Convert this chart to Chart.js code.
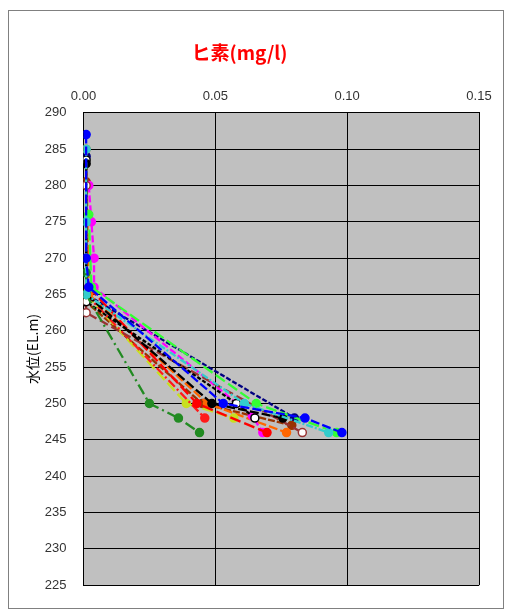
<!DOCTYPE html>
<html>
<head>
<meta charset="utf-8">
<script src="https://cdn.jsdelivr.net/npm/chart.js@4/dist/chart.umd.min.js"></script>
<style>
  body { margin: 0; background: #fff; }
  #wrap { position: relative; width: 505px; height: 610px; }
  #frame { position: absolute; left: 8px; top: 10px; width: 494px; height: 597px; border: 1px solid #808080; }
  canvas { position: absolute; left: 0; top: 0; }
</style>
</head>
<body>
<div id="wrap">
  <div id="frame"></div>
  <canvas id="myChart" width="505" height="610"></canvas>
</div>
<script>
// x ticks (mg/l) and y ticks (EL.m)
let xTicks = [0, 0.05, 0.10, 0.15];
let yTicks = [225, 230, 235, 240, 245, 250, 255, 260, 265, 270, 275, 280, 285, 290];

// each series: elevation and arsenic value
let elev1 = [287, 270, 266, 250, 248, 246];
let val1  = [0.001, 0.001, 0.002, 0.053, 0.084, 0.098];
let elev2 = [285, 275, 265, 250, 246];
let val2  = [0.001, 0.001, 0.001, 0.061, 0.093];
let elev3 = [276, 266, 250, 246];
let val3  = [0.002, 0.003, 0.0655, 0.096];
let elev4 = [268, 265, 250, 248, 246];
let val4  = [0.001, 0.001, 0.025, 0.036, 0.044];
let elev5 = [283, 265, 250, 248];
let val5  = [0.001, 0.001, 0.0487, 0.0756];
let elev6 = [283.5, 264, 250, 248];
let val6  = [0.001, 0.001, 0.058, 0.065];
let elev7 = [280, 262.5, 246];
let val7  = [0.001, 0.001, 0.083];
let elev8 = [266, 250, 246];
let val8  = [0.002, 0.043, 0.0696];
let elev9 = [265, 248];
let val9  = [0.001, 0.046];
let elev10 = [280, 275, 270, 266, 248.3, 246];
let val10  = [0.002, 0.003, 0.004, 0.004, 0.064, 0.068];
let elev11 = [265, 250, 248];
let val11  = [0.001, 0.039, 0.057];
let elev12 = [285, 265, 250, 246];
let val12  = [0.001, 0.002, 0.047, 0.077];
let elev13 = [280.5, 264, 250, 247];
let val13  = [0.001, 0.001, 0.045, 0.079];
let elev14 = [284, 265, 248];
let val14  = [0.001, 0.001, 0.080];

let elevArr = [elev1, elev2, elev3, elev4, elev5, elev6, elev7, elev8, elev9, elev10, elev11, elev12, elev13, elev14];
let valArr = [val1, val2, val3, val4, val5, val6, val7, val8, val9, val10, val11, val12, val13, val14];

// styles
let colorArr = ["#0000FF", "#33CCCC", "#33FF33", "#228B22", "#000000", "#000000", "#993333",
                "#FF0000", "#FF1A1A", "#FF00FF", "#C8E020", "#FF6600", "#993300", "#000080"];
let fillArr = ["#0000FF", "#33CCCC", "#33FF33", "#228B22", "#000000", "#FFFFFF", "#FFFFFF",
               "#FF0000", "#FF1A1A", "#FF00FF", "#C8E020", "#FF6600", "#993300", "#000080"];
let dashArr = [[9, 3], [7, 2, 2, 2], [11, 4], [11, 4, 2, 4], [9, 3], [4, 2], [9, 4],
               [11, 4], [9, 3, 2, 3], [7, 3], [11, 4], [9, 3], [7, 2], [5, 2]];

let datasets = [];
for (let i = 0; i < elevArr.length; i++) {
    datasets.push({
        label: "S" + (i + 1),
        data: elevArr[i].map((e, j) => ({x: valArr[i][j], y: e})),
        showLine: true,
        borderColor: colorArr[i],
        backgroundColor: fillArr[i],
        pointBorderColor: colorArr[i],
        pointBackgroundColor: fillArr[i],
        pointRadius: 4,
        pointBorderWidth: 1.5,
        borderWidth: 2.3,
        borderDash: dashArr[i]
    });
}

let plotBg = {
    id: "plotBg",
    beforeDraw(chart) {
        let a = chart.chartArea;
        let ctx = chart.ctx;
        ctx.save();
        ctx.fillStyle = "#C0C0C0";
        ctx.fillRect(a.left, a.top, a.right - a.left, a.bottom - a.top);
        ctx.restore();
    }
};

let tickFont = {family: "Liberation Sans, Arial, sans-serif", size: 13};

let myChart = new Chart(document.getElementById("myChart"), {
    type: "scatter",
    data: {datasets: datasets},
    plugins: [plotBg],
    options: {
        responsive: false,
        animation: false,
        layout: {padding: {left: 0, right: 26, top: 0, bottom: 16}},
        plugins: {
            legend: {display: false},
            tooltip: {enabled: false},
            title: {
                display: true,
                text: "ヒ素(mg/l)",
                color: "#FF0000",
                font: {family: "Noto Sans CJK JP", size: 19, weight: "bold", lineHeight: 1.2},
                padding: {top: 41, bottom: 10}
            }
        },
        scales: {
            x: {
                type: "linear",
                position: "top",
                min: 0,
                max: 0.15,
                afterBuildTicks: (s) => { s.ticks = xTicks.map(v => ({value: v})); },
                afterFit: (s) => { s.height = 39; },
                ticks: {
                    color: "#333333",
                    font: tickFont,
                    padding: 9,
                    callback: (v) => Number(v).toFixed(2)
                },
                grid: {color: "#000000", lineWidth: 1, drawTicks: false},
                border: {color: "#000000", width: 1}
            },
            y: {
                type: "linear",
                min: 225,
                max: 290,
                afterBuildTicks: (s) => { s.ticks = yTicks.map(v => ({value: v})); },
                afterFit: (s) => { s.width = 83.5; },
                ticks: {color: "#333333", font: tickFont, padding: 17},
                grid: {color: "#000000", lineWidth: 1, drawTicks: false},
                border: {color: "#000000", width: 1},
                title: {
                    display: true,
                    text: "水位(EL.m)",
                    color: "#000000",
                    font: {family: "Noto Sans CJK JP", size: 14, lineHeight: 1.2},
                    padding: {top: 24, bottom: 0}
                }
            }
        }
    }
});
</script>
</body>
</html>
